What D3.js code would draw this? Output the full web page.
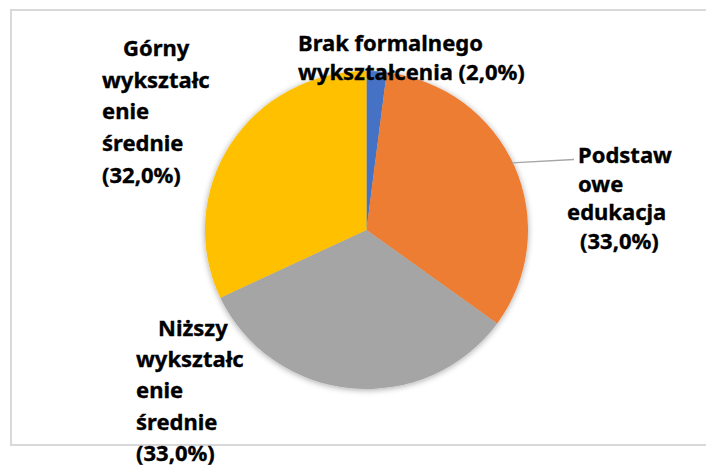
<!DOCTYPE html>
<html>
<head>
<meta charset="utf-8">
<script src="https://cdn.jsdelivr.net/npm/d3@7"></script>
<style>
  body { margin: 0; background: #fff; }
  svg text { font-family: "Noto Sans", "DejaVu Sans", sans-serif; font-weight: bold; fill: #000; stroke: #000; stroke-width: 0.35px; }
</style>
</head>
<body>
<svg id="chart" width="706" height="468"></svg>
<script>
// categories, shares in percent, colours
var categories = ["Brak formalnego wykształcenia", "Podstawowe edukacja", "Niższy wykształcenie średnie", "Górny wykształcenie średnie"];
var values = [2.0, 33.0, 33.0, 32.0];
var colors = ["#4472C4", "#ED7D31", "#A5A5A5", "#FFC000"];
// label lines as Excel wrapped them
var labelLines = [
  ["Brak formalnego", "wykształcenia (2,0%)"],
  ["Podstaw", "owe", "edukacja", "(33,0%)"],
  ["Niższy", "wykształc", "enie", "średnie", "(33,0%)"],
  ["Górny", "wykształc", "enie", "średnie", "(32,0%)"]
];

var svg = d3.select("#chart");

// chart frame
svg.append("rect")
  .attr("x", 11).attr("y", 10)
  .attr("width", 720).attr("height", 435)
  .attr("fill", "none")
  .attr("stroke", "#d9d9d9")
  .attr("stroke-width", 2);

var defs = svg.append("defs");
var f = defs.append("filter").attr("id", "shadow")
  .attr("x", "-10%").attr("y", "-10%").attr("width", "120%").attr("height", "120%");
f.append("feGaussianBlur").attr("in", "SourceAlpha").attr("stdDeviation", 3).attr("result", "b");
f.append("feOffset").attr("in", "b").attr("dx", 0).attr("dy", 1).attr("result", "o");
f.append("feComponentTransfer").attr("in", "o").attr("result", "s")
  .append("feFuncA").attr("type", "linear").attr("slope", 0.35);
var merge = f.append("feMerge");
merge.append("feMergeNode").attr("in", "s");
merge.append("feMergeNode").attr("in", "SourceGraphic");

var cx = 366.5, cy = 230, rx = 161.5, ry = 159;

var pie = d3.pie().sort(null).value(function(d) { return d; });
var arc = d3.arc().innerRadius(0).outerRadius(ry);
var arcs = pie(values);

var g = svg.append("g")
  .attr("transform", "translate(" + cx + "," + cy + ") scale(" + (rx / ry) + ",1)");

g.append("g").attr("filter", "url(#shadow)")
  .selectAll("path")
  .data(arcs)
  .enter().append("path")
  .attr("d", arc)
  .attr("fill", function(d, i) { return colors[i]; });

// leader line for the orange slice label
var a = 65 * Math.PI / 180;
var p0 = [cx + rx * Math.sin(a) - 1, cy - ry * Math.cos(a)];
svg.append("line")
  .attr("x1", p0[0]).attr("y1", p0[1])
  .attr("x2", 574).attr("y2", 159.5)
  .attr("stroke", "#a6a6a6")
  .attr("stroke-width", 1.3);

// label placement: left x of each line, baseline of first line, line step
var labelPos = [
  { xs: [298, 298], y: 51, step: 28.5 },
  { xs: [578, 578, 567, 580], y: 163, step: 28.5 },
  { xs: [158, 136, 136, 136, 136], y: 336, step: 31.2 },
  { xs: [123, 102, 102, 102, 102], y: 56, step: 31.7 }
];

labelLines.forEach(function(lines, i) {
  var pos = labelPos[i];
  svg.append("g").attr("class", "label")
    .selectAll("text")
    .data(lines)
    .enter().append("text")
    .attr("x", function(d, j) { return pos.xs[j]; })
    .attr("y", function(d, j) { return pos.y + j * pos.step; })
    .attr("font-size", 22)
    .text(function(d) { return d; });
});
</script>
</body>
</html>
